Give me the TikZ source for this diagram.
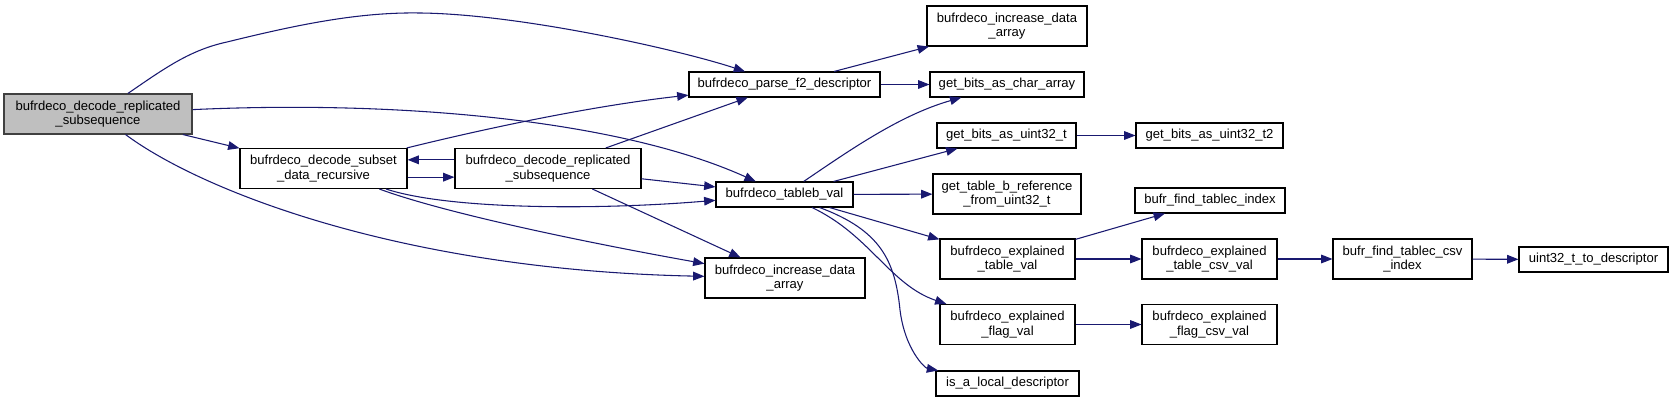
\documentclass[tikz,border=0pt]{standalone}
\usepackage{fontspec}
\setmainfont{Liberation Sans}
\usetikzlibrary{arrows.meta}
\definecolor{edgeblue}{HTML}{191970}
\definecolor{rootgray}{HTML}{BFBFBF}
\definecolor{rootline}{HTML}{404040}

\begin{document}
\begin{tikzpicture}[x=0.75pt,y=-0.75pt,
    fn/.style={draw=black,fill=white,line width=0.8pt,inner sep=0pt,align=center,
      font=\fontsize{9.8}{11}\selectfont,minimum height=18.75pt},
    tall/.style={minimum height=30pt},
    call/.style={draw=edgeblue,line width=0.8pt,-{Triangle[length=8.5pt,width=6.5pt]}}]
    \useasboundingbox (0,0) rectangle (1673,402);
    % caller column
    \node[fn,tall,fill=rootgray,draw=rootline,minimum width=141pt] (root) at (98,114) {bufrdeco\_decode\_replicated\\\_subsequence};
    \node[fn,tall,minimum width=125.25pt] (subset) at (323.5,168.5) {bufrdeco\_decode\_subset\\\_data\_recursive};
    \node[fn,tall,minimum width=139.5pt] (rep2) at (548,168.5) {bufrdeco\_decode\_replicated\\\_subsequence};
    \node[fn,minimum width=143.25pt] (parse) at (784.5,84.5) {bufrdeco\_parse\_f2\_descriptor};
    \node[fn,minimum width=102.75pt] (tableb) at (784.5,194.5) {bufrdeco\_tableb\_val};
    \node[fn,tall,minimum width=120pt] (incBot) at (785,278) {bufrdeco\_increase\_data\\\_array};
    % callees
    \node[fn,tall,minimum width=120pt] (incTop) at (1007,26) {bufrdeco\_increase\_data\\\_array};
    \node[fn,minimum width=115.5pt] (char) at (1007,84.5) {get\_bits\_as\_char\_array};
    \node[fn,minimum width=104.25pt] (u32) at (1006.5,135.5) {get\_bits\_as\_uint32\_t};
    \node[fn,tall,minimum width=111pt] (tbref) at (1007,194) {get\_table\_b\_reference\\\_from\_uint32\_t};
    \node[fn,tall,minimum width=101.25pt] (explT) at (1007.5,259) {bufrdeco\_explained\\\_table\_val};
    \node[fn,tall,minimum width=101.25pt] (explF) at (1007.5,324.5) {bufrdeco\_explained\\\_flag\_val};
    \node[fn,minimum width=107.25pt] (isloc) at (1007.5,383.5) {is\_a\_local\_descriptor};
    \node[fn,minimum width=110.25pt] (t2) at (1209.5,135.5) {get\_bits\_as\_uint32\_t2};
    \node[fn,minimum width=112.5pt] (tcidx) at (1210,200.5) {bufr\_find\_tablec\_index};
    \node[fn,tall,minimum width=101.25pt] (explTcsv) at (1209.5,259) {bufrdeco\_explained\\\_table\_csv\_val};
    \node[fn,tall,minimum width=101.25pt] (explFcsv) at (1209.5,324.5) {bufrdeco\_explained\\\_flag\_csv\_val};
    \node[fn,tall,minimum width=104.25pt] (tccsv) at (1402.5,259) {bufr\_find\_tablec\_csv\\\_index};
    \node[fn,minimum width=111.75pt] (u2d) at (1593.5,259.5) {uint32\_t\_to\_descriptor};
    % straight calls
    \foreach \a/\b in {root/subset,rep2/parse,rep2/tableb,rep2/incBot,parse/incTop,parse/char,
        tableb/u32,tableb/tbref,tableb/explT,u32/t2,explT/tcidx,explT/explTcsv,
        explF/explFcsv,explTcsv/tccsv,tccsv/u2d}
      {\draw[call] (\a) -- (\b);}
    \draw[call] ([yshift=-6.5pt]subset.east) -- ([yshift=-6.5pt]rep2.west);
    \draw[call] ([yshift=6.5pt]rep2.west) -- ([yshift=6.5pt]subset.east);
    % curved calls
    \draw[call] (root) .. controls (165,68) and (190,50) .. (227,42)
      .. controls (300,24) and (360,12) .. (420,13)
      .. controls (520,14) and (680,50) .. (parse);
    \draw[call] (root) .. controls (400,100) and (620,120) .. (tableb);
    \draw[call] (root) .. controls (200,190) and (400,270) .. (incBot);
    \draw[call] (subset) .. controls (500,125) and (600,105) .. (parse);
    \draw[call] (subset) .. controls (450,210) and (600,210) .. (tableb);
    \draw[call] (subset) .. controls (450,215) and (600,245) .. (incBot);
    \draw[call] (tableb) .. controls (850,150) and (900,115) .. (char);
    \draw[call] (tableb) .. controls (870,235) and (890,285) .. (explF);
    \draw[call] (tableb) .. controls (880,230) and (895,260) .. (900,310)
      .. controls (905,350) and (925,368) .. (isloc);
  \end{tikzpicture}
\end{document}
